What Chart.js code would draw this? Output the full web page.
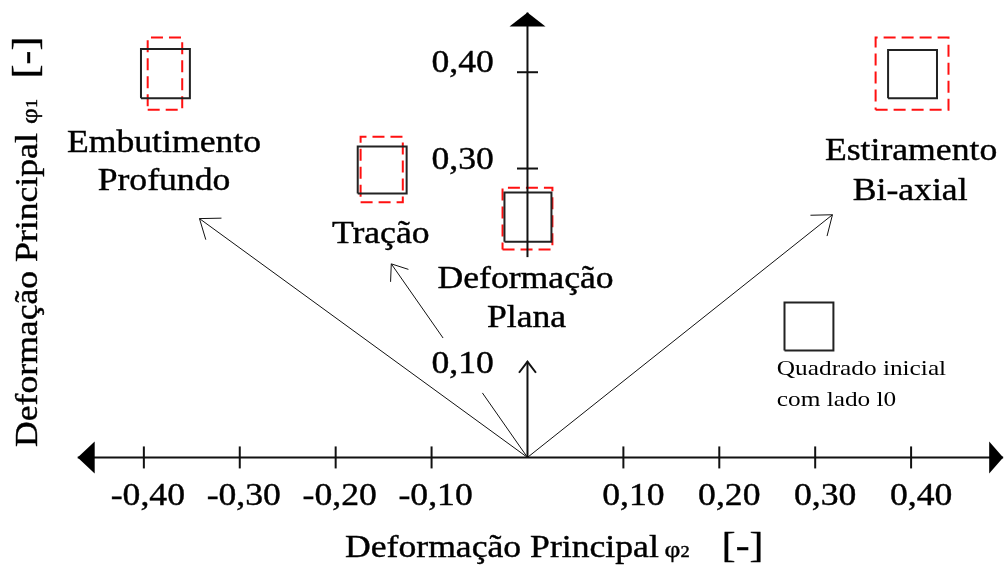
<!DOCTYPE html>
<html>
<head>
<meta charset="utf-8">
<script src="https://cdn.jsdelivr.net/npm/chart.js@4/dist/chart.umd.min.js"></script>
<style>
  html, body { margin: 0; padding: 0; background: #fff; }
  #wrap { width: 1007px; height: 573px; position: relative; }
</style>
</head>
<body>
<div id="wrap"><canvas id="c"></canvas></div>
<script>
// rectangles: [x1, x2, y1, y2] in strain units (phi2, phi1)
const initialSquare = [0.268, 0.319, 0.111, 0.161];
const embutBlack = [-0.403, -0.352, 0.373, 0.424];
const embutRed = [-0.396, -0.360, 0.361, 0.436];
const tracaoBlack = [-0.177, -0.126, 0.274, 0.323];
const tracaoRed = [-0.174, -0.130, 0.265, 0.333];
const planaBlack = [-0.024, 0.025, 0.224, 0.275];
const planaRed = [-0.026, 0.026, 0.216, 0.280];
const biaxBlack = [0.376, 0.427, 0.373, 0.423];
const biaxRed = [0.363, 0.439, 0.361, 0.436];

// strain path arrows: [phi2, phi1] end points, all starting at origin
const embutArrow = [-0.342, 0.248];
const tracaoLow = [-0.047, 0.067];
const tracaoHigh = [[-0.088, 0.124], [-0.142, 0.201]];
const planaArrow = [0, 0.0995];
const biaxArrow = [0.318, 0.252];

// axes
const xAxisEnds = [-0.469, 0.496];
const yAxisEnds = [0.208, 0.462];
const xTickValues = [-0.4, -0.3, -0.2, -0.1, 0.1, 0.2, 0.3, 0.4];
const xTickLabels = ['-0,40', '-0,30', '-0,20', '-0,10', '0,10', '0,20', '0,30', '0,40'];
const yTickValues = [0.3, 0.4];
const yTickLabels = ['0,10', '0,30', '0,40'];
const yLabelValues = [0.088, 0.3, 0.4];

const SX = 1.15;
const FONT = '"Liberation Serif", "Times New Roman", serif';

function rect(r) {
  return [
    { x: r[0], y: r[2] }, { x: r[1], y: r[2] }, { x: r[1], y: r[3] },
    { x: r[0], y: r[3] }, { x: r[0], y: r[2] },
  ];
}

function box(r, red) {
  return {
    data: rect(r),
    showLine: true,
    pointRadius: 0,
    borderWidth: 2,
    borderColor: red ? '#ff1010' : '#222',
    borderDash: red ? [12, 6] : [],
  };
}

function path(pts, width, head) {
  return {
    data: pts.map(p => ({ x: p[0], y: p[1] })),
    showLine: true,
    pointRadius: 0,
    borderWidth: width,
    borderColor: '#111',
    arrowHead: head,
  };
}

function txt(ctx, s, px, py, size, align) {
  ctx.save();
  ctx.font = size + 'px ' + FONT;
  ctx.translate(px, py);
  ctx.scale(SX, 1);
  ctx.textAlign = align || 'center';
  ctx.textBaseline = 'alphabetic';
  ctx.fillStyle = '#000';
  ctx.fillText(s, 0, 0);
  if (size > 25) {
    ctx.strokeStyle = '#000';
    ctx.lineWidth = 0.4;
    ctx.strokeText(s, 0, 0);
  }
  ctx.restore();
}

// draws pieces [text, size, gapBefore] along the baseline, from (0,0)
function chain(ctx, pieces) {
  let pos = 0;
  pieces.forEach(([s, size, gap]) => {
    pos += gap || 0;
    ctx.font = size + 'px ' + FONT;
    ctx.fillText(s, pos, 0);
    ctx.strokeText(s, pos, 0);
    pos += ctx.measureText(s).width;
  });
}

const decor = {
  id: 'decor',
  afterDatasetsDraw(chart) {
    const { ctx, scales: { x, y } } = chart;
    const X = v => x.getPixelForValue(v);
    const Y = v => y.getPixelForValue(v);
    ctx.save();

    // arrow heads on strain paths
    chart.data.datasets.forEach((ds, i) => {
      if (!ds.arrowHead) return;
      const pts = chart.getDatasetMeta(i).data;
      const a = pts[pts.length - 2], b = pts[pts.length - 1];
      const ang = Math.atan2(b.y - a.y, b.x - a.x);
      const L = ds.arrowHead, spread = 0.65;
      ctx.beginPath();
      ctx.moveTo(b.x - L * Math.cos(ang - spread), b.y - L * Math.sin(ang - spread));
      ctx.lineTo(b.x, b.y);
      ctx.lineTo(b.x - L * Math.cos(ang + spread), b.y - L * Math.sin(ang + spread));
      ctx.strokeStyle = '#111';
      ctx.lineWidth = ds.borderWidth;
      ctx.stroke();
    });

    // filled triangles at axis ends
    ctx.fillStyle = '#000';
    const oy = Y(0), ox = X(0);
    ctx.beginPath();
    ctx.moveTo(X(xAxisEnds[0]), oy); ctx.lineTo(X(xAxisEnds[0]) + 17, oy - 16); ctx.lineTo(X(xAxisEnds[0]) + 17, oy + 16);
    ctx.closePath(); ctx.fill();
    ctx.beginPath();
    ctx.moveTo(X(xAxisEnds[1]), oy); ctx.lineTo(X(xAxisEnds[1]) - 14, oy - 16); ctx.lineTo(X(xAxisEnds[1]) - 14, oy + 16);
    ctx.closePath(); ctx.fill();
    ctx.beginPath();
    ctx.moveTo(ox, Y(yAxisEnds[1])); ctx.lineTo(ox - 18, Y(yAxisEnds[1]) + 14); ctx.lineTo(ox + 18, Y(yAxisEnds[1]) + 14);
    ctx.closePath(); ctx.fill();

    // tick labels
    xTickValues.forEach((v, i) => {
      txt(ctx, xTickLabels[i], X(v) + (v < 0 ? 4 : 10), Y(-0.049), 31);
    });
    yTickLabels.forEach((s, i) => {
      txt(ctx, s, X(-0.035), Y(yLabelValues[i]), 31, 'right');
    });

    // region labels
    txt(ctx, 'Embutimento', X(-0.379), Y(0.317), 31);
    txt(ctx, 'Profundo', X(-0.379), Y(0.278), 31);
    txt(ctx, 'Tração', X(-0.153), Y(0.223), 31);
    txt(ctx, 'Deformação', X(-0.002), Y(0.176), 31);
    txt(ctx, 'Plana', X(-0.001), Y(0.135), 31);
    txt(ctx, 'Estiramento', X(0.400), Y(0.309), 31);
    txt(ctx, 'Bi-axial', X(0.399), Y(0.267), 31);
    txt(ctx, 'Quadrado inicial', X(0.260), Y(0.086), 22, 'left');
    txt(ctx, 'com lado l0', X(0.260), Y(0.053), 22, 'left');

    // axis titles
    ctx.fillStyle = '#000';
    ctx.strokeStyle = '#000';
    ctx.lineWidth = 0.4;
    ctx.textBaseline = 'alphabetic';
    ctx.textAlign = 'left';
    ctx.save();
    ctx.translate(345, 557);
    ctx.scale(SX, 1);
    chain(ctx, [['Deformação Principal', 31], ['φ', 24, 5], ['2', 16], ['[-]', 36, 28]]);
    ctx.restore();

    ctx.save();
    ctx.translate(37, 447);
    ctx.rotate(-Math.PI / 2);
    ctx.scale(SX, 1);
    chain(ctx, [['Deformação Principal', 31], ['φ', 24, 8], ['1', 16], ['[-]', 36, 18]]);
    ctx.restore();

    ctx.restore();
  },
};

const datasets = [
  path([[xAxisEnds[0], 0], [xAxisEnds[1], 0]], 2),
  path([[0, yAxisEnds[0]], [0, yAxisEnds[1]]], 2),
  {
    data: xTickValues.map(v => ({ x: v, y: 0 })),
    pointStyle: 'line', rotation: 90, pointRadius: 11,
    borderColor: '#111', borderWidth: 2,
  },
  {
    data: yTickValues.map(v => ({ x: 0, y: v })),
    pointStyle: 'line', rotation: 0, pointRadius: 10.5,
    borderColor: '#111', borderWidth: 2,
  },
  path([[0, 0], embutArrow], 1, 22),
  path([[0, 0], tracaoLow], 1),
  path(tracaoHigh, 1, 18),
  path([[0, 0], planaArrow], 2, 14),
  path([[0, 0], biaxArrow], 1, 22),
  box(initialSquare, false),
  box(embutBlack, false),
  box(tracaoBlack, false),
  box(planaBlack, false),
  box(biaxBlack, false),
  box(embutRed, true),
  box(tracaoRed, true),
  box(planaRed, true),
  box(biaxRed, true),
];

new Chart(document.getElementById('c'), {
  type: 'scatter',
  data: { datasets },
  options: {
    responsive: true,
    maintainAspectRatio: false,
    animation: false,
    layout: { padding: 0, autoPadding: false },
    plugins: { legend: { display: false }, tooltip: { enabled: false } },
    scales: {
      x: { type: 'linear', min: -0.55, max: 0.5, display: false },
      y: { type: 'linear', min: -0.12, max: 0.475, display: false },
    },
    elements: { line: { tension: 0, fill: false } },
  },
  plugins: [decor],
});
</script>
</body>
</html>
